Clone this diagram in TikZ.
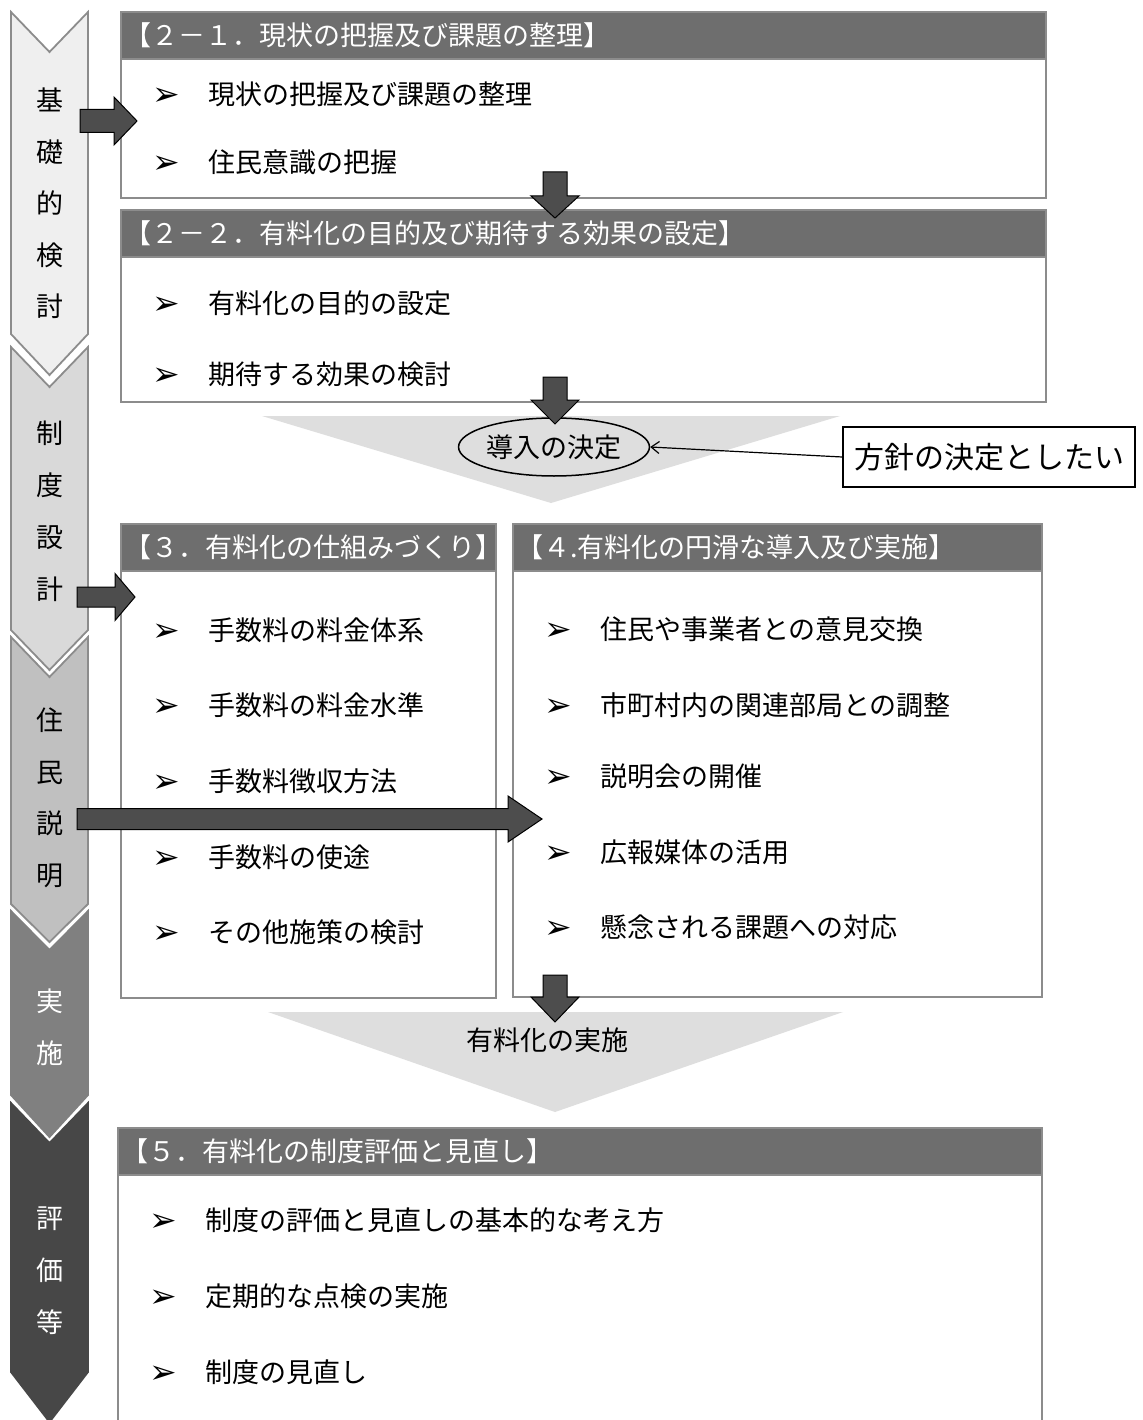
\documentclass[tikz,border=0pt]{standalone}
\usepackage{fontspec}
\setmainfont{Noto Sans CJK JP}
\newfontfamily\bulletfont{DejaVu Sans}
\usetikzlibrary{shapes.geometric,arrows.meta}
\definecolor{cA}{HTML}{EFEFEF}
\definecolor{cB}{HTML}{D9D9D9}
\definecolor{cC}{HTML}{C0C0C0}
\definecolor{cD}{HTML}{808080}
\definecolor{cE}{HTML}{474747}
\definecolor{chevline}{HTML}{8C8C8C}
\definecolor{framegray}{HTML}{8C8C8C}
\definecolor{hdrgray}{HTML}{6E6E6E}
\definecolor{arrowgray}{HTML}{4D4D4D}
\definecolor{trigray}{HTML}{DEDEDE}
\newcommand\myfs[1]{\fontsize{#1}{#1}\selectfont}
\tikzset{
  frame/.style={draw=framegray, line width=1.5pt, fill=white, inner sep=0pt, outer sep=0pt},
  hdr/.style={draw=framegray, line width=1.5pt, fill=hdrgray, inner sep=0pt, outer sep=0pt, minimum height=47, anchor=north west},
  tx27/.style={font=\myfs{27}, inner sep=0pt, text height=23.5pt, text depth=3pt},
  hdrtxt/.style={tx27, text=white, anchor=west},
  itemtxt/.style={tx27, anchor=west},
  bul/.style={font=\bulletfont\myfs{33}, inner sep=0pt, yshift=-3pt},
  chevtxt/.style={tx27},
  chevshape/.style={line width=1.8pt, line join=miter},
  blk/.style={fill=arrowgray, draw=black, line width=1pt, line join=miter},
  tri/.style={fill=trigray, draw=none},
}
% block arrow pointing right: x0 shaft start, x1 head start, x2 tip, yc center, sh half shaft, hh half head
\newcommand\blkright[6]{\draw[blk] (#1,#4-#5) -- (#2,#4-#5) -- (#2,#4-#6) -- (#3,#4) -- (#2,#4+#6) -- (#2,#4+#5) -- (#1,#4+#5) -- cycle;}
% block arrow pointing down: xc, y0 shaft start, y1 head start, y2 tip, sh, hh
\newcommand\blkdown[6]{\draw[blk] (#1-#5,#2) -- (#1+#5,#2) -- (#1+#5,#3) -- (#1+#6,#3) -- (#1,#4) -- (#1-#6,#3) -- (#1-#5,#3) -- cycle;}
% chevron: ytop ynotch yside ytip fill draw
\newcommand\chev[6]{\draw[chevshape, fill=#5, draw=#6] (11,#1) -- (49.5,#2) -- (88,#1) -- (88,#3) -- (49.5,#4) -- (11,#3) -- cycle;}
\begin{document}
\begin{tikzpicture}[x=1pt,y=-1pt]
\useasboundingbox[fill=white] (0,0) rectangle (1142,1420);

% ---------- left chevron column ----------
\chev{12}{52}{334}{375}{cA}{chevline}
\chev{347}{387}{630}{670}{cB}{chevline}
\chev{637}{677}{904}{942}{cC}{chevline}
\chev{911}{950}{1095}{1137}{cD}{cD}
\chev{1103}{1143}{1372}{1422}{cE}{cE}

\foreach \c/\y [count=\i] in {基/100,礎/152,的/203,検/255,討/306,制/433,度/485,設/537,計/589,住/720,民/772,説/823,明/875}
  \node[chevtxt] (ch\i) at (49.5,\y) {\c};
\foreach \c/\y [count=\i] in {実/1001,施/1053,評/1218,価/1270,等/1322}
  \node[chevtxt, text=white] (cw\i) at (49.5,\y) {\c};

% ---------- panel 2-1 ----------
\node[frame, minimum width=925, minimum height=186] (p21) at (583.5,105) {};
\node[hdr, minimum width=925] (p21h) at (p21.north west) {};
\node[hdrtxt] (p21t) at ([xshift=3]p21h.west) {【２－１．現状の把握及び課題の整理】};
\node[bul] (p21b1) at (166,94) {➢};
\node[itemtxt] (p21i1) at (208,94) {現状の把握及び課題の整理};
\node[bul] (p21b2) at (166,162) {➢};
\node[itemtxt] (p21i2) at (208,162) {住民意識の把握};

% ---------- panel 2-2 ----------
\node[frame, minimum width=925, minimum height=192] (p22) at (583.5,306) {};
\node[hdr, minimum width=925] (p22h) at (p22.north west) {};
\node[hdrtxt] (p22t) at ([xshift=3]p22h.west) {【２－２．有料化の目的及び期待する効果の設定】};
\node[bul] (p22b1) at (166,303) {➢};
\node[itemtxt] (p22i1) at (208,303) {有料化の目的の設定};
\node[bul] (p22b2) at (166,374) {➢};
\node[itemtxt] (p22i2) at (208,374) {期待する効果の検討};

% ---------- decision triangle ----------
\fill[tri] (262,416) -- (840,416) -- (551,503) -- cycle;
\node[ellipse, draw=black, line width=1.5pt, minimum width=184, minimum height=58, tx27] (dec) at (554,447) {導入の決定};
\node[draw=black, line width=1.5pt, fill=white, minimum width=292, minimum height=60, inner sep=0pt, font=\myfs{30}, text height=26pt, text depth=3.5pt] (pol) at (989,457) {方針の決定としたい};
\draw[line width=1.2pt, -{Straight Barb[length=8pt,width=12pt,line width=1.2pt]}] (pol.west) -- (dec.east);

% ---------- panel 3 ----------
\node[frame, minimum width=375, minimum height=474] (p3) at (308.5,761) {};
\node[hdr, minimum width=375] (p3h) at (p3.north west) {};
\node[hdrtxt] (p3t) at ([xshift=3]p3h.west) {【３．有料化の仕組みづくり】};
\foreach \t/\y [count=\i] in {手数料の料金体系/630,手数料の料金水準/705,手数料徴収方法/781,手数料の使途/857,その他施策の検討/932}{
  \node[bul] (p3b\i) at (166,\y) {➢};
  \node[itemtxt] (p3i\i) at (208,\y) {\t};
}

% ---------- panel 4 ----------
\node[frame, minimum width=529, minimum height=473] (p4) at (777.5,760.5) {};
\node[hdr, minimum width=529] (p4h) at (p4.north west) {};
\node[hdrtxt] (p4t) at ([xshift=3]p4h.west) {【４.有料化の円滑な導入及び実施】};
\foreach \t/\y [count=\i] in {住民や事業者との意見交換/629,市町村内の関連部局との調整/705,説明会の開催/776,広報媒体の活用/852,懸念される課題への対応/927}{
  \node[bul] (p4b\i) at (558,\y) {➢};
  \node[itemtxt] (p4i\i) at (600,\y) {\t};
}

% ---------- implementation triangle ----------
\fill[tri] (268,1012) -- (843,1012) -- (555,1112) -- cycle;
\node[tx27] (impl) at (547,1040) {有料化の実施};

% ---------- panel 5 ----------
\node[frame, minimum width=924, minimum height=312] (p5) at (580,1284) {};
\node[hdr, minimum width=924] (p5h) at (p5.north west) {};
\node[hdrtxt] (p5t) at ([xshift=3]p5h.west) {【５．有料化の制度評価と見直し】};
\foreach \t/\y [count=\i] in {制度の評価と見直しの基本的な考え方/1220,定期的な点検の実施/1296,制度の見直し/1372}{
  \node[bul] (p5b\i) at (163,\y) {➢};
  \node[itemtxt] (p5i\i) at (205,\y) {\t};
}

% ---------- block arrows ----------
\blkright{80}{114}{137}{121}{11.5}{24}
\blkright{77}{115}{135}{597}{10}{23.5}
\blkright{77}{508}{542}{819}{10.5}{23}
\blkdown{555}{172}{196}{218}{12}{24}
\blkdown{555}{377}{400}{424}{12}{24}
\blkdown{555}{975}{997}{1022}{12}{24}
\end{tikzpicture}
\end{document}
